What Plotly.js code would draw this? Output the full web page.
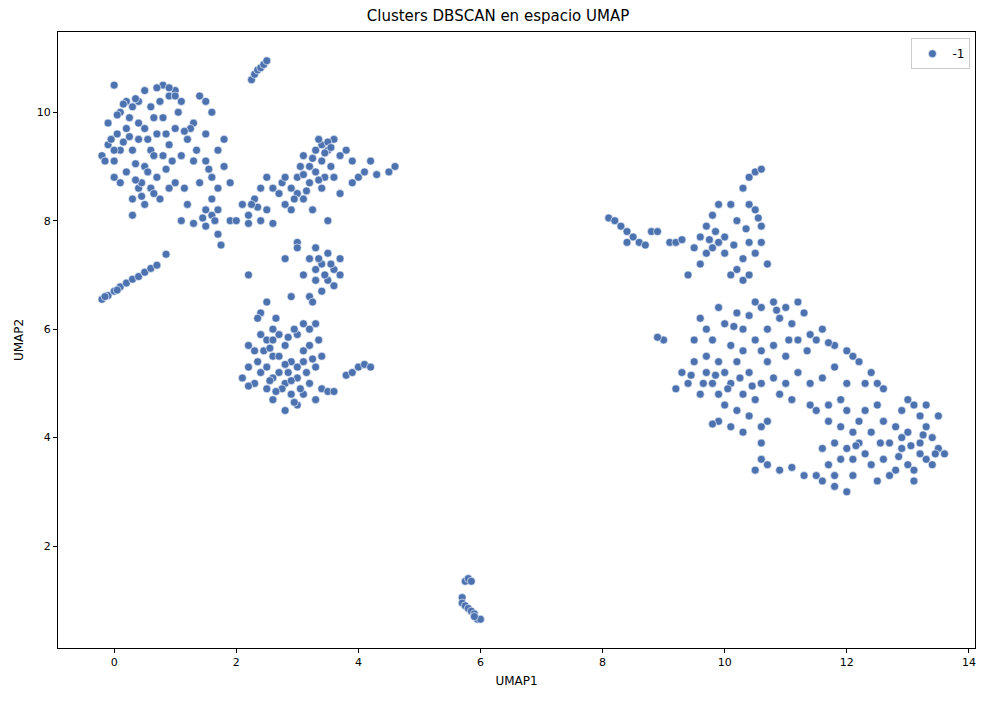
<!DOCTYPE html>
<html>
<head>
<meta charset="utf-8">
<script src="https://cdn.plot.ly/plotly-3.0.1.min.js"></script>
<style>body{margin:0;background:#fff}#plot{width:996px;height:701px}</style>
</head>
<body>
<div id="plot"></div>
<script>
// UMAP coordinates, grouped by visible blob
const blobTopLeft = [[-0.2,9.2],[-0.1,9.4],[0,9.1],[0.05,9.6],[0.1,10.0],[0.2,10.2],[0.3,10.1],[0.4,9.8],[0.2,9.7],[0.1,9.3],[0,8.8],[0.1,8.7],[0.3,8.4],[0.4,8.6],[0.5,8.3],[0.6,8.6],[0.7,8.8],[0.5,9.0],[0.6,9.3],[0.7,9.6],[0.8,9.9],[0.9,10.3],[0.8,10.5],[0.7,10.45],[1.0,10.4],[1.1,10.2],[1.0,9.7],[1.2,9.5],[1.1,9.2],[1.3,9.8],[1.4,10.3],[1.5,10.2],[1.6,10.0],[1.7,9.3],[1.8,9.0],[1.5,9.1],[1.3,9.1],[1.4,8.7],[1.6,8.8],[1.7,8.6],[1.9,8.7],[1.6,8.4],[1.5,8.2],[1.3,7.95],[1.5,7.9],[1.7,7.75],[1.75,7.55],[1.9,8.0],[2.0,8.0],[1.6,8.1],[1.7,8.2],[0.9,8.6],[1.0,8.7],[0.8,9.2],[0.3,9.3],[0.4,9.5],[-0.1,9.8],[0,10.5],[0.5,10.4],[0.6,10.1],[0.2,8.9],[0.9,9.4],[1.2,8.3],[1.1,8.0],[0.6,8.6],[0.3,8.1],[1.8,9.5],[1.5,9.6],[0.4,10.2],[0.25,9.9],[-0.05,9.5],[0.15,9.45],[0.5,9.7],[0.65,9.9],[1.05,10.0],[1.25,9.7],[0.95,9.1],[0.45,8.7],[0.55,8.9],[0.75,8.4],[0.35,9.05],[0.85,8.95],[1.15,8.6],[0.05,9.95],[0.75,10.2],[0.15,10.15],[0.35,10.25],[0.9,10.45],[1.0,10.3],[0.55,9.5],[0.65,9.2],[0.85,9.6],[1.15,9.65],[0.25,9.55],[0.0,9.3],[-0.15,9.1],[0.45,8.45],[0.65,8.5],[0.35,8.75],[1.35,9.3],[1.55,8.95],[1.65,8.0],[1.45,8.05]];
const lineLeft = [[-0.2,6.55],[-0.1,6.62],[0,6.7],[0.1,6.78],[0.2,6.85],[0.3,6.92],[0.4,6.97],[0.5,7.05],[0.6,7.12],[0.7,7.18],[0.85,7.38],[0.05,6.72],[-0.15,6.6]];
const lineTop = [[2.25,10.6],[2.3,10.7],[2.35,10.78],[2.4,10.82],[2.45,10.88],[2.5,10.95]];
const blobMidUpper = [[2.1,8.3],[2.2,8.1],[2.3,8.4],[2.4,8.0],[2.5,8.2],[2.6,7.95],[2.2,7.95],[2.5,8.8],[2.6,8.6],[2.7,8.5],[2.8,8.3],[2.9,8.6],[3.0,8.8],[3.1,8.4],[3.2,8.7],[3.3,8.9],[3.4,9.1],[3.5,9.3],[3.6,9.5],[3.4,9.4],[3.3,9.3],[3.2,9.0],[3.1,9.2],[3.0,8.5],[2.9,8.2],[3.25,8.2],[3.4,8.6],[3.6,8.8],[3.7,9.2],[3.8,9.3],[3.9,9.1],[4.0,8.8],[4.1,8.9],[4.2,9.1],[4.3,8.85],[4.5,8.9],[4.6,9.0],[3.5,8.0],[3.7,8.5],[3.9,8.7],[2.75,8.7],[3.05,9.0],[3.55,9.0],[3.15,8.55],[3.45,8.8],[2.4,8.6],[2.8,8.8],[3.35,9.5],[3.5,9.45],[3.25,9.15],[3.45,9.25],[3.55,9.35],[3.35,8.75],[3.1,8.85],[2.95,8.4],[2.35,8.25],[2.25,8.3]];
const blobMid = [[3.1,7.0],[3.2,7.3],[3.3,7.5],[3.4,7.2],[3.5,7.4],[3.6,7.1],[3.7,7.3],[3.3,6.9],[3.4,6.7],[3.5,6.9],[3.2,6.6],[3.6,6.8],[3.0,7.6],[2.8,7.3],[3.3,7.1],[3.45,7.0],[3.7,7.0],[3.25,6.5],[2.2,7.0],[2.9,6.6],[3.0,7.5],[3.35,7.3],[3.55,7.2]];
const blobLowLeft = [[2.1,5.1],[2.2,5.3],[2.3,5.6],[2.4,5.9],[2.4,6.3],[2.5,6.5],[2.5,5.8],[2.6,5.5],[2.7,5.2],[2.8,5.0],[2.9,4.8],[3.0,5.1],[3.1,5.4],[3.2,5.7],[3.3,6.1],[3.2,6.0],[3.0,5.9],[2.8,5.7],[2.7,5.9],[2.6,5.1],[2.5,4.9],[2.4,5.2],[2.3,5.0],[2.2,4.95],[2.6,4.7],[2.8,4.5],[3.0,4.6],[3.1,4.8],[3.2,5.0],[3.3,5.3],[3.4,5.5],[3.4,4.9],[3.3,4.7],[2.9,5.4],[2.7,5.5],[2.5,5.3],[2.35,6.2],[2.6,6.0],[3.1,6.1],[2.95,6.0],[2.2,5.7],[3.0,5.3],[2.85,5.2],[2.45,5.6],[2.75,4.9],[3.15,5.2],[2.55,5.65],[3.35,5.8],[2.65,6.2],[2.35,5.4],[2.55,5.05],[2.65,4.85],[2.9,5.05],[3.05,4.9],[2.8,5.35],[2.6,5.8],[2.85,5.85],[3.1,5.6],[2.95,4.65],[3.25,5.45],[3.5,4.85],[3.6,4.85],[3.8,5.15],[3.9,5.2],[4.0,5.3],[4.1,5.35],[4.2,5.3]];
const blobBottom = [[5.7,1.05],[5.75,1.35],[5.8,1.4],[5.85,1.35],[5.7,0.95],[5.75,0.9],[5.8,0.85],[5.85,0.8],[5.9,0.75],[5.95,0.65],[6.0,0.65],[5.9,0.7]];
const blobRightTop = [[8.1,8.05],[8.2,8.0],[8.3,7.9],[8.4,7.8],[8.5,7.7],[8.6,7.6],[8.7,7.55],[8.8,7.8],[8.9,7.8],[8.4,7.6],[9.1,7.6],[9.2,7.6],[9.3,7.65],[9.4,7.0],[9.5,7.5],[9.6,7.7],[9.7,7.9],[9.8,8.1],[9.9,7.6],[10.0,7.4],[10.1,8.3],[10.2,8.0],[10.3,8.6],[10.4,8.8],[10.5,8.9],[10.6,8.95],[10.5,8.2],[10.6,7.9],[10.4,7.6],[10.3,7.3],[10.2,7.1],[10.5,7.4],[10.7,7.2],[9.7,7.4],[9.8,7.5],[10.0,7.7],[9.9,8.3],[10.4,8.3],[10.1,7.0],[10.3,6.9],[10.4,7.0],[10.6,7.6],[9.6,7.2],[9.85,7.8],[10.15,7.55],[10.35,7.85],[10.55,8.05],[9.75,7.65]];
const blobRightMid = [[9.6,6.2],[9.7,6.0],[9.8,5.8],[9.9,6.4],[10.0,6.1],[10.2,6.3],[10.3,6.0],[10.5,6.5],[10.6,6.4],[10.8,6.5],[11.0,6.4],[11.2,6.5],[11.3,6.3],[11.1,6.1],[10.9,6.2],[10.7,6.0],[10.5,5.8],[10.6,5.6],[10.8,5.7],[11.0,5.5],[11.2,5.8],[11.4,5.9],[11.5,5.8],[11.6,6.0],[11.8,5.7],[12.0,5.6],[12.1,5.5],[12.2,5.4],[12.4,5.2],[12.5,5.0],[12.6,4.9],[12.3,5.0],[12.0,5.0],[11.8,5.3],[11.6,5.1],[11.4,5.0],[11.2,5.2],[11.0,5.0],[10.8,5.1],[10.6,5.0],[10.4,5.2],[10.2,5.4],[10.0,5.2],[9.8,5.0],[9.6,4.8],[9.4,5.0],[9.2,4.9],[9.3,5.2],[9.5,5.4],[9.7,5.5],[9.9,5.4],[10.1,5.0],[10.3,4.8],[10.5,4.7],[10.2,4.5],[10.0,4.6],[9.9,4.3],[9.8,4.25],[10.4,4.4],[10.6,4.2],[10.7,4.3],[10.9,4.8],[11.1,4.7],[11.4,4.6],[11.5,4.5],[11.7,4.6],[11.9,4.7],[9.5,5.8],[9.7,5.2],[10.1,5.7],[10.3,5.6],[10.7,5.4],[9.0,5.8],[8.9,5.85],[9.9,4.8],[10.3,4.1],[10.1,4.2],[9.45,5.15],[9.65,5.0],[9.85,5.15],[10.05,4.9],[10.25,5.1],[10.45,4.95],[10.15,6.05],[10.4,6.25],[10.85,6.35],[11.05,5.8],[11.35,5.6],[11.7,5.75]];
const blobRightLow = [[10.5,3.4],[10.6,3.6],[10.7,3.5],[10.6,3.9],[10.9,3.4],[11.1,3.45],[11.3,3.3],[11.5,3.3],[11.6,3.2],[11.7,3.5],[11.8,3.3],[11.9,3.6],[12.0,3.0],[12.1,3.3],[12.0,3.8],[12.1,4.1],[12.2,4.3],[12.3,3.7],[12.4,3.5],[12.5,3.2],[12.6,3.6],[12.7,3.9],[12.8,4.2],[12.9,4.5],[13.0,4.7],[13.1,4.6],[13.2,4.4],[13.3,4.2],[13.4,4.0],[13.5,3.8],[13.6,3.7],[13.5,4.4],[13.3,3.6],[13.2,3.9],[13.1,3.4],[13.0,3.5],[12.9,3.8],[12.8,3.4],[13.1,3.2],[13.4,3.5],[12.6,4.3],[12.4,4.1],[12.3,4.5],[12.2,3.9],[11.9,4.2],[11.8,3.9],[11.7,4.3],[12.0,4.5],[12.5,4.6],[12.7,3.3],[13.0,4.1],[13.2,3.7],[12.1,3.6],[11.6,3.8],[11.8,3.1],[12.9,4.0],[13.3,4.6],[12.85,3.65],[13.05,3.85],[13.25,4.05],[12.55,3.9],[12.15,3.85],[13.45,3.7]];

const allPoints = [].concat(blobTopLeft, lineLeft, lineTop, blobMidUpper, blobMid,
  blobLowLeft, blobBottom, blobRightTop, blobRightMid, blobRightLow);

const trace = {
  x: allPoints.map(p => p[0]),
  y: allPoints.map(p => p[1]),
  type: 'scatter',
  mode: 'markers',
  name: '-1',
  marker: {color: '#4c72b0', size: 8, line: {color: '#ffffff', width: 0.6}},
  showlegend: true
};

const axisStyle = {
  showgrid: false, zeroline: false, showline: true, mirror: true,
  linecolor: '#000', linewidth: 1, ticks: 'outside', ticklen: 4,
  tickcolor: '#000', tickfont: {size: 11, color: '#000'}
};

const layout = {
  width: 996, height: 701,
  margin: {l: 58, r: 21, t: 32, b: 53},
  font: {family: 'DejaVu Sans', color: '#000'},
  paper_bgcolor: '#fff', plot_bgcolor: '#fff',
  title: {text: 'Clusters DBSCAN en espacio UMAP', font: {size: 15}, x: 0.5, y: 0.978, yanchor: 'middle'},
  xaxis: Object.assign({}, axisStyle, {range: [-0.92, 14.1], tickvals: [0, 2, 4, 6, 8, 10, 12, 14],
    title: {text: 'UMAP1', font: {size: 12}, standoff: 8}}),
  yaxis: Object.assign({}, axisStyle, {range: [0.12, 11.48], tickvals: [2, 4, 6, 8, 10],
    title: {text: 'UMAP2', font: {size: 12}, standoff: 10}}),
  showlegend: true,
  legend: {x: 0.995, y: 0.99, xanchor: 'right', yanchor: 'top', bordercolor: '#ccc',
    borderwidth: 1, bgcolor: '#fff', font: {size: 12}}
};

Plotly.newPlot('plot', [trace], layout, {staticPlot: true});
</script>
</body>
</html>
